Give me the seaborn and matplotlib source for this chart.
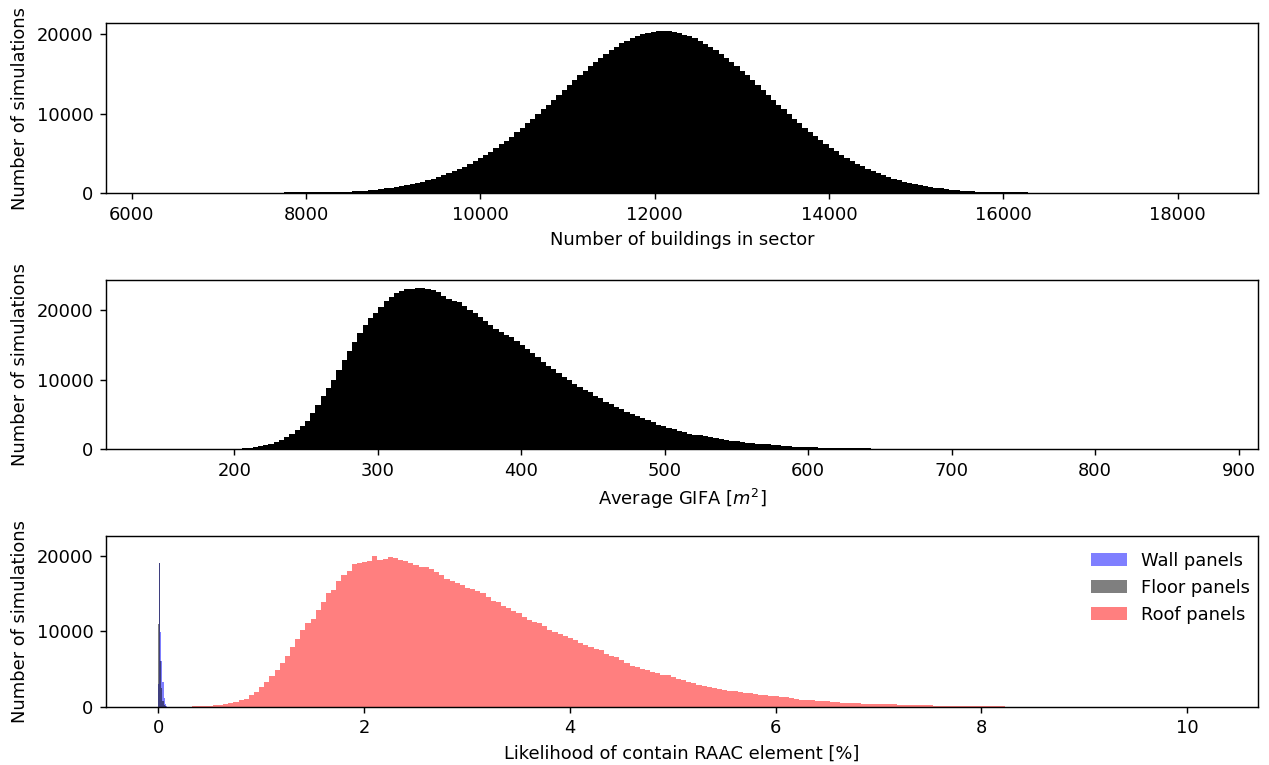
import numpy as np
import pandas as pd
import matplotlib
matplotlib.use("Agg")
import matplotlib.pyplot as plt
import seaborn as sns

# ---- Histogram data: (lower edge, upper edge, number of bins), index of first occupied bin, counts ----
buildings_bins = (6306.0, 18322.0, 200)
buildings_first_bin = 24
buildings_counts = [
    110, 115, 120, 125, 130, 135, 140, 145, 150, 158, 170, 194, 225, 261, 302, 349,
    403, 462, 531, 607, 692, 787, 893, 1010, 1140, 1284, 1445, 1620, 1809, 2018,
    2244, 2489, 2754, 3040, 3347, 3677, 4033, 4408, 4803, 5224, 5665, 6129, 6614,
    7121, 7646, 8191, 8761, 9339, 9925, 10525, 11136, 11746, 12363, 12979, 13594,
    14200, 14797, 15381, 15948, 16492, 17023, 17517, 17981, 18411, 18803, 19157,
    19469, 19736, 19957, 20130, 20254, 20328, 20350,
    20310, 20240, 20100, 19920, 19700, 19440, 19130, 18780, 18400, 17970, 17500,
    17000, 16480, 15930, 15370, 14790, 14190, 13590, 12980, 12370, 11750, 11140,
    10540, 9940, 9350, 8780, 8210, 7670, 7140, 6640, 6150, 5690, 5250, 4830, 4440,
    4060, 3710, 3380, 3070, 2780, 2520, 2270, 2050, 1840, 1650, 1470, 1310, 1170,
    1040, 920, 810, 710, 620, 540, 470, 410, 350, 300, 260, 220, 190, 170, 150,
    135, 125, 118, 112, 108, 104, 100, 98, 96, 94, 92,
]

gifa_bins = (147.0, 877.0, 200)
gifa_first_bin = 15
gifa_counts = [
    90, 130, 190, 300, 450, 620, 820, 1050, 1350, 1750, 2250, 2800, 3400, 4090,
    5140, 6330, 7620, 8850, 10000, 11420, 12850, 14090, 15380, 16660, 17760, 18850,
    19550, 20350, 21230, 21900, 22470, 22750, 22940, 23040, 23130, 23130, 22990,
    22850, 22520, 22040, 21560, 21330, 21090, 20610, 19990, 19520,
    18940, 18450, 17800, 17250, 16850, 16450, 16050, 15550, 14950, 14350, 13850,
    13250, 12500, 11950, 11450, 10950, 10400, 9900, 9400, 8950, 8550, 8150, 7700,
    7300, 6850, 6500, 6100, 5750, 5400, 5100, 4780, 4500, 4200, 3850, 3550, 3300,
    3080, 2850, 2620, 2420, 2250, 2100, 1980, 1850, 1740, 1620, 1490, 1360, 1250,
    1120, 1030, 960, 880, 820, 760, 690, 630, 580, 520, 450, 400, 360, 330, 290,
    270, 240, 220, 200, 180, 165, 150, 140, 130, 120, 115, 110, 105,
]

raac_wall_bins = (0.0, 0.08, 8)
raac_wall_counts = [3000, 19000, 9900, 6000, 3300, 1200, 400, 100]
raac_floor_bins = (0.0, 0.08, 8)
raac_floor_counts = [11000, 19000, 6000, 2500, 800, 200, 50, 10]

raac_roof_bins = (0.18, 10.18, 200)
raac_roof_first_bin = 3
raac_roof_counts = [
    90, 90, 130, 140, 180, 230, 360, 450, 620, 840, 1060, 1500, 1990, 2650, 3310,
    4060, 4860, 5830, 6710, 7860, 9010, 10160, 11040, 11570, 12810, 13860, 15010,
    15450, 16690, 17440, 18020, 18900, 18990, 19160, 19340, 19960, 19430, 19600,
    19780, 19740, 19430, 19300, 19080, 18720, 18550, 18450, 18190, 17840, 17440,
    16950, 16650, 16420, 16070, 15760, 15540, 15360, 15010, 14480, 14040, 13860,
    13380, 13030, 12720, 12450, 11830, 11480, 11260, 11040, 10690, 10160, 9890,
    9580, 9360, 9100, 8830, 8390, 8120, 7860, 7680, 7470, 6980, 6760, 6630, 6190,
    5740, 5430, 5210, 5030, 4860, 4600, 4420, 4240, 4150, 3980, 3710, 3530, 3270,
    3090, 2920, 2790, 2650, 2520, 2340, 2260, 2120, 2040, 1990, 1860, 1770, 1640,
    1550, 1500, 1460, 1370, 1330, 1240, 1150, 1020, 930, 890, 840, 800, 750, 710,
    620, 580, 530, 510, 490, 450, 400, 390, 360, 350, 340, 310, 300, 270, 230, 220,
    210, 180, 170, 160, 150, 140, 130, 130, 120, 120, 110, 110, 100, 100, 90, 80,
    70, 60,
]

series_labels = ["Wall panels", "Floor panels", "Roof panels"]
x_labels = [
    "Number of buildings in sector",
    "Average GIFA [$m^2$]",
    "Likelihood of contain RAAC element [%]",
]
y_label = "Number of simulations"


def bin_edges(spec):
    lo, hi, n = spec
    return np.linspace(lo, hi, n + 1)


def draw_hist(ax, spec, first, counts, color, alpha, label=None):
    edges = bin_edges(spec)
    centers = 0.5 * (edges[:-1] + edges[1:])
    df = pd.DataFrame({"value": centers[first:first + len(counts)],
                       "count": np.asarray(counts, dtype=float)})
    kws = dict(label=label) if label else {}
    sns.histplot(data=df, x="value", weights="count", bins=list(edges),
                 element="step", fill=True, color=color, alpha=alpha,
                 linewidth=0, ax=ax, **kws)


def padded_xlim(ax, lo, hi):
    pad = 0.05 * (hi - lo)
    ax.set_xlim(lo - pad, hi + pad)


W, H, DPI = 1269, 765, 129
fig = plt.figure(figsize=(W / DPI, H / DPI), dpi=DPI)
left, right = 106 / W, 1258 / W
boxes = [(23, 193.3), (280, 449.3), (535.7, 706.7)]
axes = [fig.add_axes([left, 1 - b / H, right - left, (b - t) / H]) for t, b in boxes]
ax1, ax2, ax3 = axes

# Panel 1: number of buildings
draw_hist(ax1, buildings_bins, buildings_first_bin, buildings_counts, "black", 1.0)
padded_xlim(ax1, buildings_bins[0], buildings_bins[1])
ax1.set_ylim(0, 1.05 * max(buildings_counts))

# Panel 2: average GIFA
draw_hist(ax2, gifa_bins, gifa_first_bin, gifa_counts, "black", 1.0)
padded_xlim(ax2, gifa_bins[0], gifa_bins[1])
ax2.set_ylim(0, 1.05 * max(gifa_counts))

# Panel 3: likelihood of RAAC per element type
draw_hist(ax3, raac_wall_bins, 0, raac_wall_counts, "blue", 0.5, series_labels[0])
draw_hist(ax3, raac_floor_bins, 0, raac_floor_counts, "black", 0.5, series_labels[1])
draw_hist(ax3, raac_roof_bins, raac_roof_first_bin, raac_roof_counts, "red", 0.5,
          series_labels[2])
padded_xlim(ax3, min(raac_wall_bins[0], raac_floor_bins[0]), raac_roof_bins[1])
ax3.set_ylim(0, 22650)
ax3.legend(loc="upper right", bbox_to_anchor=(1.007, 1.0), frameon=False)

for ax, xl in zip(axes, x_labels):
    ax.set_xlabel(xl)
    ax.set_ylabel(y_label)

fig.savefig("out.png", dpi=DPI)
